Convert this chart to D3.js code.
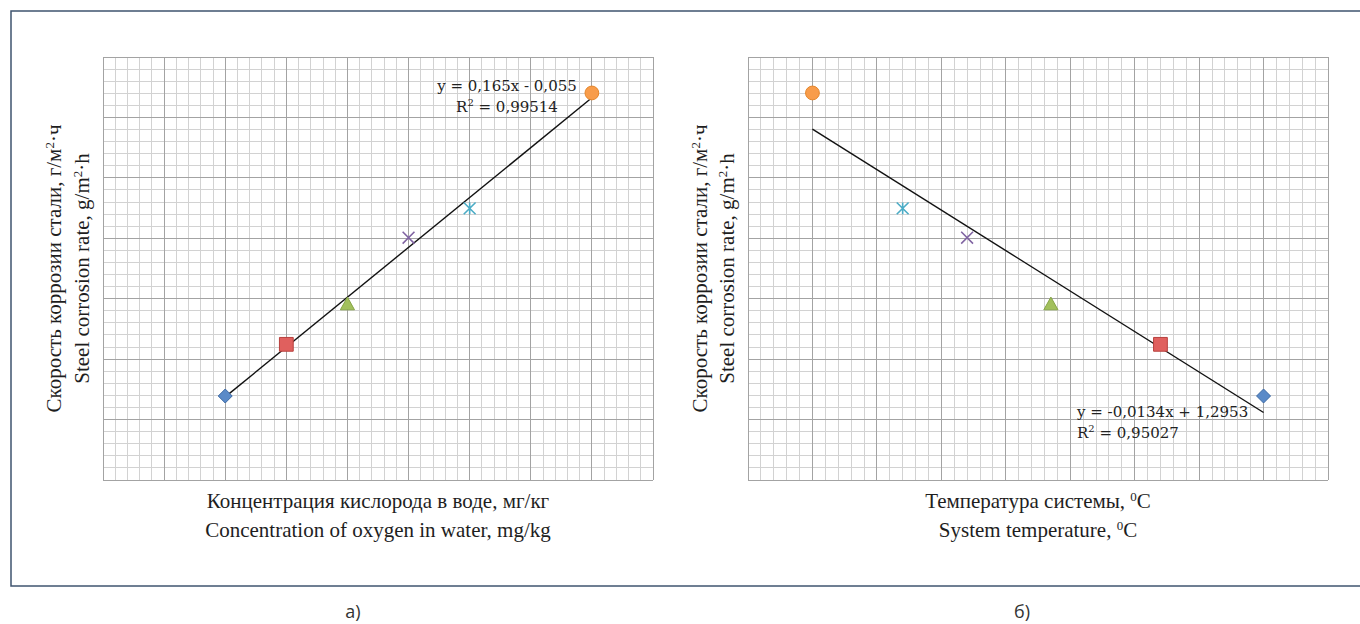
<!DOCTYPE html>
<html lang="ru">
<head>
<meta charset="UTF-8">
<title>Скорость коррозии стали</title>
<script src="https://d3js.org/d3.v7.min.js"></script>
<style>
  body { margin: 0; background: #fff; }
  .minor { stroke: #d2d2d2; stroke-width: 1; shape-rendering: crispEdges; }
  .major { stroke: #a3a3a3; stroke-width: 1; shape-rendering: crispEdges; }
  .lbl { font-family: "Liberation Serif", "Times New Roman", Times, serif; font-size: 21px; fill: #1e1e1e; }
  .eq { font-family: "DejaVu Serif", serif; font-size: 15px; fill: #222; }
  .cap { font-family: "Open Sans", "Noto Sans", sans-serif; font-size: 18px; fill: #333; }
</style>
</head>
<body>
<script>
// скорость коррозии, г/м2·ч — одна и та же серия точек на обоих графиках
const rate = [0.278, 0.449, 0.582, 0.802, 0.899, 1.281];
const oxygen = [2, 3, 4, 5, 6, 8];            // мг/кг
const temperature = [80, 64, 47, 34, 24, 10]; // °C
const yDomain = [0, 1.4];
const oxygenDomain = [0, 9];
const tempDomain = [0, 90];
const trendA = { k: 0.165, b: -0.055, from: 2, to: 8, eq: "y = 0,165x - 0,055", r2: "0,99514" };
const trendB = { k: -0.0134, b: 1.2953, from: 10, to: 80, eq: "y = -0,0134x + 1,2953", r2: "0,95027" };

const W = 1360, H = 624;
const svg = d3.select("body").append("svg").attr("width", W).attr("height", H);

// рамка
svg.append("rect")
  .attr("x", 11).attr("y", 11).attr("width", 1360).attr("height", 575)
  .attr("fill", "none").attr("stroke", "#3f546f").attr("stroke-width", 1.5);

// маркеры как в Excel
const mk = (fn) => ({ draw(ctx, size) { fn(ctx, Math.sqrt(size) / 2); } });
const shapes = [
  mk((c, r) => { c.moveTo(0, -r); c.lineTo(r, 0); c.lineTo(0, r); c.lineTo(-r, 0); c.closePath(); }),
  mk((c, r) => { c.rect(-r, -r, 2 * r, 2 * r); }),
  mk((c, r) => { c.moveTo(0, -r); c.lineTo(r, r * 0.8); c.lineTo(-r, r * 0.8); c.closePath(); }),
  mk((c, r) => { c.moveTo(-r, -r); c.lineTo(r, r); c.moveTo(r, -r); c.lineTo(-r, r); }),
  mk((c, r) => { c.moveTo(-r, -r); c.lineTo(r, r); c.moveTo(r, -r); c.lineTo(-r, r); c.moveTo(0, -r); c.lineTo(0, r); }),
  mk((c, r) => { c.moveTo(r, 0); c.arc(0, 0, r, 0, 2 * Math.PI); })
];
const fills = ["#5a8ac8", "#e0605e", "#a2c05c", "none", "none", "#f89c4a"];
const strokes = ["#3d6aa5", "#b8403d", "#86a447", "#8064a2", "#4bacc6", "#e5862b"];
const sizes = [196, 190, 200, 140, 140, 190];

function panel(cfg) {
  const x = d3.scaleLinear().domain(cfg.xDomain).range([cfg.left, cfg.right]);
  const y = d3.scaleLinear().domain(yDomain).range([cfg.bottom, cfg.top]);
  const g = svg.append("g");

  const nx = cfg.xMajors * 5, ny = 7 * 5;
  const xv = d3.range(nx + 1).map(i => cfg.xDomain[0] + i * (cfg.xDomain[1] - cfg.xDomain[0]) / nx);
  const yv = d3.range(ny + 1).map(i => yDomain[0] + i * (yDomain[1] - yDomain[0]) / ny);

  ["minor", "major"].forEach(cls => {
    const keep = (i) => cls === "major" ? i % 5 === 0 : i % 5 !== 0;
    g.append("g").selectAll("line").data(xv.filter((d, i) => keep(i))).join("line")
      .attr("class", cls)
      .attr("x1", d => x(d)).attr("x2", d => x(d))
      .attr("y1", y(yDomain[0])).attr("y2", y(yDomain[1]));
    g.append("g").selectAll("line").data(yv.filter((d, i) => keep(i))).join("line")
      .attr("class", cls)
      .attr("y1", d => y(d)).attr("y2", d => y(d))
      .attr("x1", x(cfg.xDomain[0])).attr("x2", x(cfg.xDomain[1]));
  });

  // линия тренда
  const t = cfg.trend;
  g.append("line")
    .attr("x1", x(t.from)).attr("y1", y(t.k * t.from + t.b))
    .attr("x2", x(t.to)).attr("y2", y(t.k * t.to + t.b))
    .attr("stroke", "#111").attr("stroke-width", 1.4);

  // точки
  g.append("g").selectAll("path").data(cfg.xs).join("path")
    .attr("transform", (d, i) => `translate(${x(d)},${y(rate[i])})`)
    .attr("d", (d, i) => d3.symbol().type(shapes[i]).size(sizes[i])())
    .attr("fill", (d, i) => fills[i])
    .attr("stroke", (d, i) => strokes[i])
    .attr("stroke-width", (d, i) => fills[i] === "none" ? 1.6 : 1);

  // уравнение
  const eq = g.append("text").attr("class", "eq")
    .attr("text-anchor", cfg.eqAnchor).attr("x", cfg.eqX).attr("y", cfg.eqY);
  eq.append("tspan").text(t.eq);
  const r = g.append("text").attr("class", "eq")
    .attr("text-anchor", cfg.eqAnchor).attr("x", cfg.eqX).attr("y", cfg.eqY + 21);
  r.append("tspan").text("R");
  r.append("tspan").attr("font-size", 10).attr("dy", -6).text("2");
  r.append("tspan").attr("dy", 6).text(" = " + t.r2);

  // подписи осей
  const cy = (cfg.top + cfg.bottom) / 2, cx = (cfg.left + cfg.right) / 2;
  const addParts = (tx, parts) => parts.forEach(p => {
    const s = tx.append("tspan").text(p[0]);
    if (p[1]) s.attr("font-size", 13).attr("dy", -7); else s.attr("dy", p[2] || 0);
  });
  cfg.yLabels.forEach((parts, i) => {
    const tx = g.append("text").attr("class", "lbl").attr("text-anchor", "middle")
      .attr("transform", `translate(${cfg.yLabelX[i]},${cy}) rotate(-90)`);
    addParts(tx, parts);
  });
  cfg.xLabels.forEach((parts, i) => {
    const tx = g.append("text").attr("class", "lbl").attr("text-anchor", "middle")
      .attr("x", cx).attr("y", 508 + i * 29);
    addParts(tx, parts);
  });

  svg.append("text").attr("class", "cap").attr("text-anchor", "middle")
    .attr("x", cfg.capX).attr("y", 618).text(cfg.cap);
}

const yLab = [
  [["Скорость коррозии стали, г/м"], ["2", true], ["·ч", false, 7]],
  [["Steel corrosion rate, g/m"], ["2", true], ["·h", false, 7]]
];

panel({
  left: 103, right: 653, top: 57, bottom: 480,
  xDomain: oxygenDomain, xMajors: 9, xs: oxygen, trend: trendA,
  eqAnchor: "middle", eqX: 507, eqY: 91,
  yLabels: yLab, yLabelX: [61, 89],
  xLabels: [[["Концентрация кислорода в воде, мг/кг"]], [["Concentration of oxygen in water, mg/kg"]]],
  cap: "а)", capX: 353
});

panel({
  left: 748, right: 1328, top: 57, bottom: 480,
  xDomain: tempDomain, xMajors: 9, xs: temperature, trend: trendB,
  eqAnchor: "start", eqX: 1077, eqY: 417,
  yLabels: yLab, yLabelX: [707, 734],
  xLabels: [[["Температура системы, "], ["0", true], ["C", false, 7]], [["System temperature, "], ["0", true], ["C", false, 7]]],
  cap: "б)", capX: 1022
});
</script>
</body>
</html>
